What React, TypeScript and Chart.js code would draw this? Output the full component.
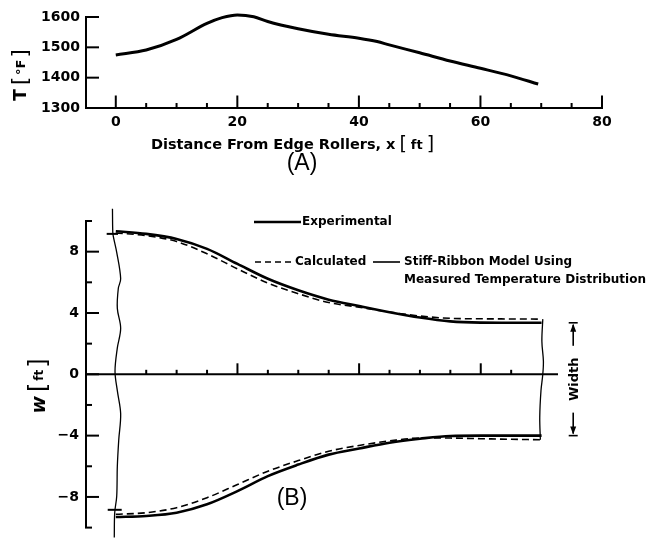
import React, { useEffect, useRef } from "react";
import { Chart, registerables } from "chart.js";

Chart.register(...registerables);

// ---------- (A) temperature distribution ----------
const tempX = [0, 5, 10, 15, 17.5, 20, 22.7, 25, 30, 35, 40, 43, 45, 50, 55, 60, 65, 69.5];
const tempF = [1475, 1491, 1526, 1579, 1598, 1607, 1601, 1585, 1561, 1543, 1530, 1519, 1508, 1482, 1455, 1431, 1406, 1379];
const tempTicks = [1300, 1400, 1500, 1600];
const distTicks = [0, 5, 10, 15, 20, 25, 30, 35, 40, 45, 50, 55, 60, 65, 70, 75, 80];

// ---------- (B) ribbon width ----------
const ribbonX = [0, 5, 10, 15, 20, 25, 30, 35, 40, 45, 50, 55, 60, 65, 70];
const expUpper = [9.33, 9.16, 8.83, 8.18, 7.2, 6.23, 5.48, 4.87, 4.45, 4.05, 3.7, 3.45, 3.37, 3.36, 3.36];
const calcUpper = [9.22, 9.05, 8.66, 7.86, 6.88, 5.95, 5.26, 4.68, 4.38, 4.06, 3.8, 3.65, 3.62, 3.61, 3.6];
const expLower = [-9.31, -9.24, -9.03, -8.48, -7.62, -6.64, -5.89, -5.24, -4.84, -4.46, -4.2, -4.02, -4.0, -4.0, -4.0];
const calcLower = [-9.13, -9.03, -8.7, -8.05, -7.19, -6.32, -5.63, -5.02, -4.64, -4.35, -4.16, -4.16, -4.2, -4.24, -4.27];
const widthTicks = [-10, -8, -6, -4, -2, 0, 2, 4, 6, 8, 10];
const ribbonXTicks = [5, 10, 15, 20, 25, 30, 35, 40, 45, 50, 55, 60, 65];

const leftEdgeX = [-0.55, -0.5, -0.41, 0.15, 0.8, 0.41, 0.25, 0.8, 0.25, -0.13, 0.25, 0.8, 0.48, 0.25, 0.15, -0.18, -0.25];
const leftEdgeW = [10.8, 9.3, 9.0, 7.96, 6.24, 5.6, 4.3, 3.0, 1.72, 0.2, -1.07, -2.58, -4.3, -6.0, -7.95, -9.03, -10.65];
const rightEdgeX = [70.2, 70.05, 70.3, 70.2, 69.9, 69.7, 69.8];
const rightEdgeW = [3.6, 2.15, 0.86, 0, -1.07, -2.8, -4.27];
const topMarkX = [-1.5, 0.36];
const topMarkW = [9.16, 9.16];
const botMarkX = [-1.33, 0.97];
const botMarkW = [-8.84, -8.84];
const widthMarkerFt = 75.2;

const FONT = '"DejaVu Sans", sans-serif';
const B_TOP = 190;

const pts = (xs: number[], ys: number[]) => xs.map((x, i) => ({ x, y: ys[i] }));

function seg(ctx: CanvasRenderingContext2D, x1: number, y1: number, x2: number, y2: number) {
  ctx.beginPath();
  ctx.moveTo(x1, y1);
  ctx.lineTo(x2, y2);
  ctx.stroke();
}

type Part = { t: string; font: string; gap?: number; dy?: number };

function runWidth(ctx: CanvasRenderingContext2D, parts: Part[]) {
  let w = 0;
  parts.forEach((p, i) => {
    ctx.font = p.font;
    w += ctx.measureText(p.t).width + (i < parts.length - 1 ? p.gap ?? 0 : 0);
  });
  return w;
}

function drawRun(ctx: CanvasRenderingContext2D, x: number, y: number, parts: Part[]) {
  let cx = x;
  for (const p of parts) {
    ctx.font = p.font;
    ctx.fillText(p.t, cx, y + (p.dy ?? 0));
    cx += ctx.measureText(p.t).width + (p.gap ?? 0);
  }
}

function drawRotated(ctx: CanvasRenderingContext2D, cx: number, cy: number, parts: Part[]) {
  ctx.save();
  ctx.translate(cx, cy);
  ctx.rotate(-Math.PI / 2);
  ctx.textBaseline = "middle";
  ctx.textAlign = "left";
  const w = runWidth(ctx, parts);
  drawRun(ctx, -w / 2, 0, parts);
  ctx.restore();
}

const figA = {
  id: "figA",
  afterDraw(chart: any) {
    const { ctx, scales } = chart;
    const x = scales.x;
    const y = scales.y;
    const y0 = y.getPixelForValue(tempTicks[0]);
    const yTop = y.getPixelForValue(tempTicks[tempTicks.length - 1]);
    ctx.save();
    ctx.strokeStyle = "#000";
    ctx.fillStyle = "#000";
    ctx.lineWidth = 2;
    seg(ctx, x.left, y0 + 1, x.left, yTop - 1);
    for (const v of tempTicks.slice(1)) {
      const p = y.getPixelForValue(v);
      seg(ctx, x.left, p, x.left + 13, p);
    }
    const xEnd = x.getPixelForValue(distTicks[distTicks.length - 1]);
    seg(ctx, x.left - 1, y0, xEnd + 1, y0);
    for (const v of distTicks) {
      const p = x.getPixelForValue(v);
      const len = v % 20 === 0 ? 12.5 : 5;
      seg(ctx, p, y0, p, y0 - len);
    }
    // x title
    const title: Part[] = [
      { t: "Distance From Edge Rollers, x", font: `bold 14.5px ${FONT}`, gap: 4 },
      { t: "[", font: `19px ${FONT}`, gap: 4, dy: 1 },
      { t: "ft", font: `bold 13px ${FONT}`, gap: 4 },
      { t: "]", font: `19px ${FONT}`, dy: 1 },
    ];
    ctx.textBaseline = "alphabetic";
    ctx.textAlign = "left";
    const tw = runWidth(ctx, title);
    drawRun(ctx, 292.5 - tw / 2, 149, title);
    // panel label
    ctx.font = '23px "Liberation Sans", Arial, sans-serif';
    ctx.textAlign = "center";
    ctx.textBaseline = "middle";
    ctx.fillText("(A)", 302, 164);
    // y title
    drawRotated(ctx, 22, 75, [
      { t: "T", font: `bold 17px ${FONT}`, gap: 4 },
      { t: "[", font: `21px ${FONT}`, gap: 2 },
      { t: "°F", font: `bold 13px ${FONT}`, gap: 2 },
      { t: "]", font: `21px ${FONT}` },
    ]);
    ctx.restore();
  },
};

const figB = {
  id: "figB",
  afterDraw(chart: any) {
    const { ctx, scales } = chart;
    const x = scales.x;
    const y = scales.y;
    const zeroY = y.getPixelForValue(0);
    ctx.save();
    ctx.strokeStyle = "#000";
    ctx.fillStyle = "#000";
    ctx.lineWidth = 2;
    // y axis
    seg(ctx, x.left, y.getPixelForValue(widthTicks[widthTicks.length - 1]), x.left, y.getPixelForValue(widthTicks[0]));
    for (const v of widthTicks) {
      const p = y.getPixelForValue(v);
      const len = v % 4 === 0 ? 13 : 6;
      seg(ctx, x.left - 1, p, x.left + len, p);
    }
    // x axis at zero
    seg(ctx, x.left, zeroY, x.right, zeroY);
    for (const v of ribbonXTicks) {
      const p = x.getPixelForValue(v);
      const len = v % 20 === 0 ? 11 : 4.5;
      seg(ctx, p, zeroY, p, zeroY - len);
    }
    // legend
    const ly1 = 222 - B_TOP;
    const ly2 = 262 - B_TOP;
    const ly3 = 280 - B_TOP;
    ctx.lineWidth = 2.4;
    seg(ctx, 254, ly1, 301, ly1);
    ctx.lineWidth = 1.6;
    ctx.setLineDash([6, 4]);
    seg(ctx, 255, ly2, 295, ly2);
    ctx.setLineDash([]);
    seg(ctx, 373, ly2, 400, ly2);
    ctx.font = `bold 12px ${FONT}`;
    ctx.textAlign = "left";
    ctx.textBaseline = "middle";
    ctx.fillText("Experimental", 302, ly1);
    ctx.fillText("Calculated", 295, ly2);
    ctx.fillText("Stiff-Ribbon Model Using", 404, ly2);
    ctx.fillText("Measured Temperature Distribution", 404, ly3);
    // width annotation
    const ax = x.getPixelForValue(widthMarkerFt);
    const topY = y.getPixelForValue(expUpper[expUpper.length - 1]);
    const botY = y.getPixelForValue(expLower[expLower.length - 1]);
    ctx.lineWidth = 1.6;
    seg(ctx, ax - 4.5, topY, ax + 4.5, topY);
    seg(ctx, ax, topY + 2, ax, topY + 23);
    seg(ctx, ax - 4.5, botY, ax + 4.5, botY);
    seg(ctx, ax, botY - 23, ax, botY - 2);
    ctx.beginPath();
    ctx.moveTo(ax, topY + 1);
    ctx.lineTo(ax - 3, topY + 9);
    ctx.lineTo(ax + 3, topY + 9);
    ctx.closePath();
    ctx.fill();
    ctx.beginPath();
    ctx.moveTo(ax, botY - 1);
    ctx.lineTo(ax - 3, botY - 9);
    ctx.lineTo(ax + 3, botY - 9);
    ctx.closePath();
    ctx.fill();
    drawRotated(ctx, ax + 1, (topY + botY) / 2, [{ t: "Width", font: `bold 13px ${FONT}` }]);
    // panel label
    ctx.font = '23px "Liberation Sans", Arial, sans-serif';
    ctx.textAlign = "center";
    ctx.textBaseline = "middle";
    ctx.fillText("(B)", 292, 499 - B_TOP);
    // y title
    drawRotated(ctx, 40, 386 - B_TOP, [
      { t: "w", font: `italic bold 19px ${FONT}`, gap: 4 },
      { t: "[", font: `24px ${FONT}`, gap: 2 },
      { t: "ft", font: `bold 12px ${FONT}`, gap: 2 },
      { t: "]", font: `24px ${FONT}` },
    ]);
    ctx.restore();
  },
};

export default function App() {
  const refA = useRef<HTMLCanvasElement>(null);
  const refB = useRef<HTMLCanvasElement>(null);

  useEffect(() => {
    const tickFont = { family: FONT, size: 14, weight: "bold" as const };
    const chartA = new Chart(refA.current!, {
      type: "line",
      data: {
        datasets: [
          {
            data: pts(tempX, tempF),
            borderColor: "#000",
            borderWidth: 3,
            pointRadius: 0,
            cubicInterpolationMode: "monotone",
            clip: false as any,
          },
        ],
      },
      options: {
        responsive: false,
        animation: false,
        events: [],
        layout: { padding: { left: 0, top: 17, right: 49, bottom: 0 } },
        plugins: { legend: { display: false }, tooltip: { enabled: false } },
        scales: {
          x: {
            type: "linear",
            min: -4.9,
            max: 80,
            grid: { display: false, drawTicks: false },
            border: { display: false },
            afterBuildTicks: (s: any) => {
              s.ticks = distTicks.map((v) => ({ value: v }));
            },
            afterFit: (s: any) => {
              s.height = 67;
            },
            ticks: {
              autoSkip: false,
              maxRotation: 0,
              padding: 6,
              color: "#000",
              font: tickFont,
              callback: (v: any) => (Number(v) % 20 === 0 ? String(v) : ""),
            },
          },
          y: {
            type: "linear",
            min: 1300,
            max: 1600,
            grid: { display: false, drawTicks: false },
            border: { display: false },
            afterBuildTicks: (s: any) => {
              s.ticks = tempTicks.map((v) => ({ value: v }));
            },
            afterFit: (s: any) => {
              s.width = 86;
            },
            ticks: { padding: 6, color: "#000", font: tickFont, callback: (v: any) => String(v) },
          },
        },
      },
      plugins: [figA],
    });

    const edgeStyle = {
      borderColor: "#000",
      borderWidth: 1.3,
      pointRadius: 0,
      tension: 0.35,
      clip: false as any,
    };
    const chartB = new Chart(refB.current!, {
      type: "line",
      data: {
        datasets: [
          { data: pts(ribbonX, expUpper), borderColor: "#000", borderWidth: 2.6, pointRadius: 0, cubicInterpolationMode: "monotone" },
          { data: pts(ribbonX, calcUpper), borderColor: "#000", borderWidth: 1.6, borderDash: [7, 4], pointRadius: 0, cubicInterpolationMode: "monotone" },
          { data: pts(ribbonX, expLower), borderColor: "#000", borderWidth: 2.6, pointRadius: 0, cubicInterpolationMode: "monotone" },
          { data: pts(ribbonX, calcLower), borderColor: "#000", borderWidth: 1.6, borderDash: [7, 4], pointRadius: 0, cubicInterpolationMode: "monotone" },
          { data: pts(leftEdgeX, leftEdgeW), ...edgeStyle },
          { data: pts(rightEdgeX, rightEdgeW), ...edgeStyle },
          { data: pts(topMarkX, topMarkW), borderColor: "#000", borderWidth: 2, pointRadius: 0, tension: 0, clip: false as any },
          { data: pts(botMarkX, botMarkW), borderColor: "#000", borderWidth: 2, pointRadius: 0, tension: 0, clip: false as any },
        ],
      },
      options: {
        responsive: false,
        animation: false,
        events: [],
        layout: { padding: { left: 0, top: 31, right: 93, bottom: 12 } },
        plugins: { legend: { display: false }, tooltip: { enabled: false } },
        scales: {
          x: { type: "linear", min: -4.9, max: 72.7, display: false },
          y: {
            type: "linear",
            min: -10,
            max: 10,
            grid: { display: false, drawTicks: false },
            border: { display: false },
            afterBuildTicks: (s: any) => {
              s.ticks = widthTicks.map((v) => ({ value: v }));
            },
            afterFit: (s: any) => {
              s.width = 86;
            },
            ticks: {
              padding: 7,
              color: "#000",
              font: tickFont,
              callback: (v: any) => {
                const n = Number(v);
                if (n % 4 !== 0) return "";
                return n < 0 ? "\u2212" + Math.abs(n) : String(n);
              },
            },
          },
        },
      },
      plugins: [figB],
    });

    return () => {
      chartA.destroy();
      chartB.destroy();
    };
  }, []);

  return (
    <div style={{ position: "fixed", left: 0, top: 0, width: 651, height: 543, background: "#fff" }}>
      <canvas ref={refA} width={651} height={175} style={{ position: "absolute", left: 0, top: 0 }} />
      <canvas ref={refB} width={651} height={353} style={{ position: "absolute", left: 0, top: B_TOP }} />
    </div>
  );
}
